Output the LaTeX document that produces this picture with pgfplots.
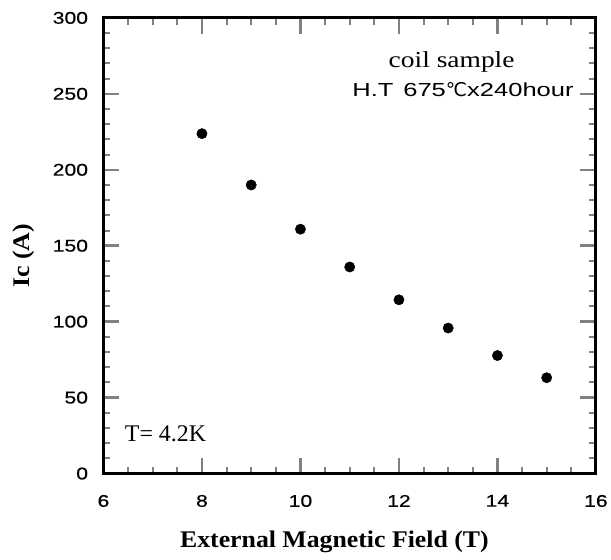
\documentclass[border=0pt]{standalone}
\usepackage{pgfplots}
\pgfplotsset{compat=1.18}
\usepackage{fontspec}
\setmainfont{Liberation Serif}
\newfontfamily\hv[FakeStretch=1.25,FakeBold=0.6]{Liberation Sans}
\newfontfamily\hvw[FakeStretch=1.35]{Liberation Sans}
\newfontfamily\serifw[FakeStretch=1.2]{Liberation Serif}
\newfontfamily\serifb[FakeStretch=1.08]{Liberation Serif Bold}
\newfontfamily\djsans{DejaVu Sans}

\begin{document}
\begin{tikzpicture}
  \begin{axis}[name=ax,
      scale only axis, width=495pt, height=458pt,
      xmin=6, xmax=16, ymin=0, ymax=300,
      xtick={6,8,...,16}, ytick={0,50,...,300},
      minor x tick num=3, minor y tick num=4,
      tick align=inside, axis line style={line width=3pt},
      major tick style={line width=2.5pt}, minor tick style={line width=2pt},
      major tick length=16pt, minor tick length=7pt,
      /pgf/number format/assume math mode=true,
      tick label style={font=\hv\fontsize{17}{17}\selectfont},
      yticklabel style={xshift=-12pt},
      xticklabel style={yshift=-18pt},
      xlabel={\serifb External Magnetic Field (T)},
      ylabel={\serifb Ic (A)},
      label style={font=\fontsize{24}{24}\selectfont},
      xlabel style={at={(axis description cs:0.469,0)}, anchor=base, yshift=-74pt},
      ylabel style={at={(axis description cs:0,0.478)}, anchor=center, yshift=80pt},
    ]
    \addplot[only marks, mark=*, mark size=5.2pt, black] coordinates {
      (8,223.8) (9,190) (10,160.9) (11,136) (12,114.4) (13,95.8) (14,77.7) (15,63.1)};
    \node[font=\serifw\fontsize{23}{23}\selectfont] at (axis cs:13.07,271) {coil sample};
    \node[font=\hvw\fontsize{19}{19}\selectfont] at (axis cs:13.3,252.8) {H.T\hspace{10pt}675{\djsans ℃}x240hour};
    \node[font=\fontsize{24}{24}\selectfont] at (axis cs:7.26,26.2) {T= 4.2K};
  \end{axis}
  \path (ax.south west) ++(-104pt,-86pt) rectangle ++(611pt,562pt);
\end{tikzpicture}
\end{document}
